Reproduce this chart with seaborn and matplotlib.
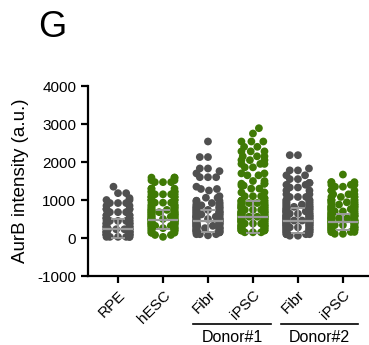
# AurB intensity scatter dot plot
import matplotlib
import numpy as np
import pandas as pd
import seaborn as sns
from seaborn import categorical

matplotlib.use("Agg")
import matplotlib.pyplot as plt
import matplotlib.transforms as mtransforms

groups = ["RPE", "hESC", "Fibr1", "iPSC1", "Fibr2", "iPSC2"]
tick_labels = ["RPE", "hESC", "Fibr", "iPSC", "Fibr", "iPSC"]
colors = ["#505050", "#3f7a05", "#505050", "#3f7a05", "#505050", "#3f7a05"]

# values as (level, number of dots at that level)
rpe_lvl = [1350, 1180, 1050, 1000, 920, 850, 760, 680, 600, 520, 450, 380, 300, 230, 160, 90, 30]
rpe_cnt = [1, 2, 1, 2, 3, 2, 4, 3, 4, 5, 6, 6, 7, 8, 8, 8, 6]

hesc_lvl = [1590, 1520, 1470, 1300, 1220, 1150, 1080, 1000, 930, 860, 800, 740, 680,
            620, 560, 500, 440, 380, 320, 260, 200, 140, 80, 30]
hesc_cnt = [3, 2, 3, 3, 5, 6, 6, 6, 5, 5, 5, 6, 7, 7, 7, 8, 8, 8, 7, 6, 5, 3, 2, 1]

fibr1_lvl = [2540, 2130, 1830, 1760, 1700, 1600, 1350, 1290, 1250, 1100, 1060, 980,
             920, 860, 800, 740, 680, 620, 560, 500, 440, 380, 320, 260, 200, 150, 100, 70]
fibr1_cnt = [1, 2, 2, 1, 1, 3, 1, 2, 1, 1, 2, 3, 4, 5, 6, 6, 7, 7, 8, 8, 8, 8, 8, 8,
             7, 5, 3, 1]

ipsc1_lvl = [2890, 2750, 2540, 2400, 2280, 2150, 2050, 1950, 1860, 1700, 1650, 1500,
             1430, 1380, 1300, 1200, 1100, 1050, 980, 920, 860, 800, 740, 680, 620,
             560, 500, 440, 380, 320, 260, 200, 150]
ipsc1_cnt = [1, 1, 3, 2, 3, 3, 3, 3, 2, 2, 2, 2, 3, 2, 2, 2, 3, 2, 5, 6, 6, 7, 7, 8,
             8, 8, 8, 8, 8, 8, 7, 6, 3]

fibr2_lvl = [2180, 1830, 1780, 1650, 1550, 1450, 1400, 1330, 1250, 1150, 1080, 1000,
             940, 880, 820, 760, 700, 640, 580, 520, 460, 400, 340, 280, 220, 160, 100, 60]
fibr2_cnt = [2, 1, 2, 2, 2, 2, 2, 2, 2, 2, 3, 4, 4, 5, 6, 6, 7, 7, 8, 8, 8, 8, 8, 8,
             7, 6, 4, 2]

ipsc2_lvl = [1670, 1470, 1400, 1350, 1250, 1150, 1080, 1000, 940, 880, 820, 760, 700,
             640, 580, 520, 460, 400, 340, 280, 220, 160, 110]
ipsc2_cnt = [1, 3, 3, 2, 3, 3, 4, 5, 5, 5, 6, 6, 6, 6, 7, 7, 7, 7, 7, 7, 6, 4, 2]

# mean and SD bars
means = [250, 480, 450, 560, 450, 420]
sds = [250, 250, 300, 420, 330, 210]

levels = [rpe_lvl, hesc_lvl, fibr1_lvl, ipsc1_lvl, fibr2_lvl, ipsc2_lvl]
counts = [rpe_cnt, hesc_cnt, fibr1_cnt, ipsc1_cnt, fibr2_cnt, ipsc2_cnt]
rows = []
for g, lv, ct in zip(groups, levels, counts):
    for v in np.repeat(lv, ct):
        rows.append((g, v))
df = pd.DataFrame(rows, columns=["group", "value"])

# narrower swarm columns than seaborn's default 0.8
_bee_init = categorical.Beeswarm.__init__


def _narrow_init(self, orient="x", width=0.8, warn_thresh=0.05):
    _bee_init(self, orient=orient, width=width * 0.64, warn_thresh=warn_thresh)


categorical.Beeswarm.__init__ = _narrow_init

plt.rcParams["font.family"] = ["Liberation Sans", "DejaVu Sans"]
plt.rcParams["axes.unicode_minus"] = False
fig = plt.figure(figsize=(3.69, 3.45), dpi=100)
ax = fig.add_axes([0.2385, 0.2, 0.7615, 0.5507])

sns.swarmplot(data=df, x="group", y="value", hue="group", order=groups,
              palette=colors, size=5.6, linewidth=0,
              legend=False, ax=ax, warn_thresh=1.0)

for i, (m, s) in enumerate(zip(means, sds)):
    ax.hlines(m, i - 0.33, i + 0.33, color="#9a9a9a", lw=1.6, zorder=5)
    ax.errorbar(i, m, yerr=s, color="#9a9a9a", lw=1.4, capsize=5,
                capthick=1.4, zorder=5)

ax.set_xlim(-0.667, 5.58)
ax.set_ylim(-1000, 4000)
ax.set_yticks([-1000, 0, 1000, 2000, 3000, 4000])
ax.set_xticks(range(6))
ax.set_xticklabels(tick_labels, rotation=45, ha="right", rotation_mode="anchor")
ax.tick_params(labelsize=11, width=1.6, length=5)
ax.set_xlabel("")
ax.set_ylabel("AurB intensity (a.u.)", fontsize=13.5, labelpad=6)
for side in ["top", "right"]:
    ax.spines[side].set_visible(False)
for side in ["left", "bottom"]:
    ax.spines[side].set_linewidth(1.6)

# donor brackets under the axis
trans = mtransforms.blended_transform_factory(ax.transData, fig.transFigure)
for x0, x1, name in [(1.67, 3.4, "Donor#1"), (3.62, 5.33, "Donor#2")]:
    ax.plot([x0, x1], [0.061, 0.061], color="black", lw=1.2,
            transform=trans, clip_on=False)
    ax.text((x0 + x1) / 2, 0.022, name, transform=trans, ha="center",
            va="center", fontsize=11.5)

fig.text(0.141, 0.919, "G", fontsize=26, ha="center", va="center")

plt.savefig("out.png", dpi=100)
